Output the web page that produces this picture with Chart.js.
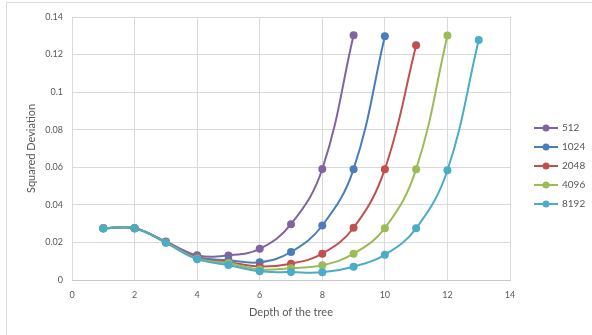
<!DOCTYPE html>
<html>
<head>
<meta charset="utf-8">
<script src="https://cdn.jsdelivr.net/npm/chart.js@4.4.1/dist/chart.umd.min.js"></script>
<style>
  html, body { margin: 0; padding: 0; background: #fff; overflow: hidden; }
  #wrap { position: relative; width: 592px; height: 335px; }
  #frame { position: absolute; left: 6px; top: 2px; width: 640px; height: 400px; border: 1px solid #d9d9d9; }
  #chart { position: absolute; left: 0; top: 0; }
</style>
</head>
<body>
<div id="wrap">
  <div id="frame"></div>
  <canvas id="chart" width="592" height="335"></canvas>
</div>
<script>
// tree depth on the x axis
const depths = [1, 2, 3, 4, 5, 6, 7, 8, 9, 10, 11, 12, 13];
const seriesNames = ['512', '1024', '2048', '4096', '8192'];
const colors = ['#8064a2', '#4a7ebb', '#c0504d', '#9bbb59', '#4bacc6'];

// squared deviation per series (starting at depth 1)
const dev512 = [0.0275, 0.0275, 0.0205, 0.0132, 0.0131, 0.0166, 0.0297, 0.0591, 0.1303];
const dev1024 = [0.0275, 0.0276, 0.0202, 0.0122, 0.0105, 0.0094, 0.0149, 0.029, 0.059, 0.1298];
const dev2048 = [0.0275, 0.0276, 0.0201, 0.0118, 0.0095, 0.0072, 0.0087, 0.014, 0.0278, 0.059, 0.125];
const dev4096 = [0.0275, 0.0276, 0.02, 0.0115, 0.009, 0.0056, 0.0063, 0.0078, 0.014, 0.0276, 0.059, 0.1302];
const dev8192 = [0.0274, 0.0276, 0.0198, 0.0111, 0.008, 0.0046, 0.0042, 0.0041, 0.0071, 0.0134, 0.0275, 0.0584, 0.1278];
const allSeries = [dev512, dev1024, dev2048, dev4096, dev8192];

const xTicks = [0, 2, 4, 6, 8, 10, 12, 14];
const yTicks = [0, 0.02, 0.04, 0.06, 0.08, 0.1, 0.12, 0.14];

const textColor = '#595959';
const gridColor = '#d9d9d9';

// little "line with dot" marker for the legend
function legendMarker(color) {
  const c = document.createElement('canvas');
  c.width = 24;
  c.height = 10;
  const g = c.getContext('2d');
  g.strokeStyle = color;
  g.lineWidth = 2;
  g.beginPath();
  g.moveTo(0, 5);
  g.lineTo(24, 5);
  g.stroke();
  g.fillStyle = color;
  g.beginPath();
  g.arc(12, 5, 3.5, 0, Math.PI * 2);
  g.fill();
  return c;
}
const markers = colors.map(legendMarker);

const datasets = allSeries.map((vals, i) => ({
  label: seriesNames[i],
  data: vals.map((v, j) => ({ x: depths[j], y: v })),
  borderColor: colors[i],
  backgroundColor: colors[i],
  borderWidth: 2,
  pointRadius: 4,
  pointBorderWidth: 0,
  pointHoverRadius: 4,
  tension: 0.4,
  order: allSeries.length - i
}));

// fixed legend width, then slide it over to where the original sits
const legendFix = {
  id: 'legendFix',
  beforeLayout(chart) {
    const lg = chart.legend;
    if (!lg._patched) {
      const fit = lg.fit;
      lg.fit = function () {
        fit.call(this);
        this.width = 82;
      };
      lg._patched = true;
    }
  },
  afterLayout(chart) {
    const lg = chart.legend;
    lg.left += 16;
    lg.right += 16;
    lg.top -= 10;
    lg.bottom -= 10;
  }
};

new Chart(document.getElementById('chart'), {
  type: 'line',
  data: { datasets },
  options: {
    responsive: false,
    animation: false,
    layout: { padding: { top: 17, right: 0, bottom: 0, left: 0 } },
    scales: {
      x: {
        type: 'linear',
        min: 0,
        max: 14,
        afterBuildTicks: s => { s.ticks = xTicks.map(v => ({ value: v })); },
        afterFit: s => { s.height = 55; },
        grid: { color: gridColor, drawTicks: false },
        border: { color: '#c8c8c8' },
        ticks: { color: textColor, padding: 10, font: { size: 9, family: 'Lato, sans-serif' } },
        title: {
          display: true,
          text: 'Depth of the tree',
          color: textColor,
          padding: { top: 0, bottom: 16 },
          font: { size: 11, family: 'Lato, sans-serif' }
        }
      },
      y: {
        min: 0,
        max: 0.14,
        afterBuildTicks: s => { s.ticks = yTicks.map(v => ({ value: v })); },
        afterFit: s => { s.width = 72; },
        grid: { color: gridColor, drawTicks: false },
        border: { display: false },
        ticks: {
          color: textColor,
          padding: 9,
          font: { size: 9, family: 'Lato, sans-serif' },
          callback: v => String(parseFloat(v.toFixed(2)))
        },
        title: {
          display: true,
          text: 'Squared Deviation',
          color: textColor,
          padding: { top: 25, bottom: 0 },
          font: { size: 11, family: 'Lato, sans-serif' }
        }
      }
    },
    plugins: {
      tooltip: { enabled: false },
      legend: {
        position: 'right',
        labels: {
          color: textColor,
          font: { size: 10, family: 'Lato, sans-serif' },
          usePointStyle: true,
          pointStyleWidth: 22,
          padding: 9,
          sort: (a, b) => a.datasetIndex - b.datasetIndex,
          generateLabels: chart => {
            const items = Chart.defaults.plugins.legend.labels.generateLabels(chart);
            items.forEach(it => { it.pointStyle = markers[it.datasetIndex]; });
            return items;
          }
        }
      }
    }
  },
  plugins: [legendFix]
});
</script>
</body>
</html>
